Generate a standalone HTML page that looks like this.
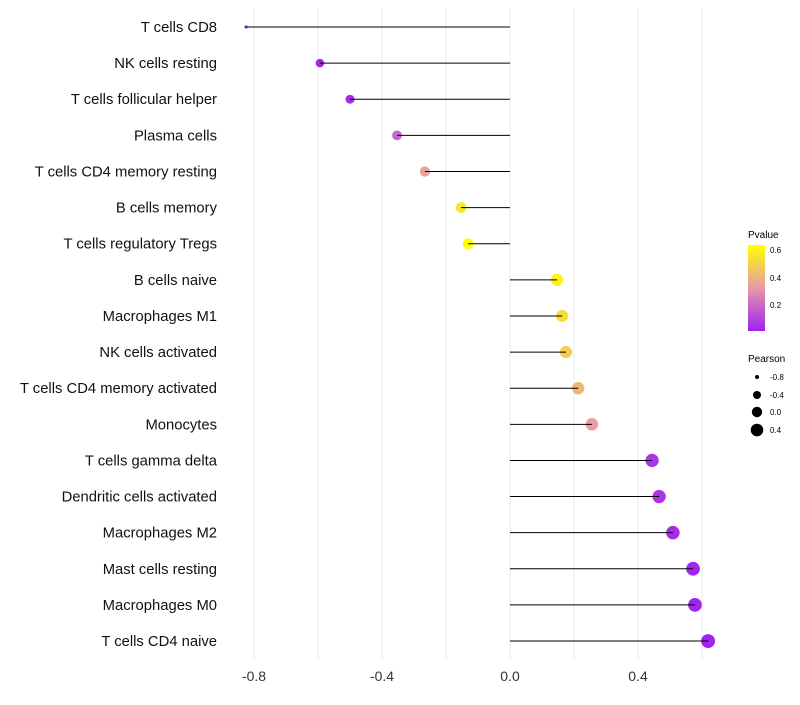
<!DOCTYPE html>
<html><head><meta charset="utf-8"><style>
body{margin:0;background:#fff;font-family:"Liberation Sans",sans-serif}
svg text{font-family:"Liberation Sans",sans-serif}
</style></head><body>
<svg id="chart" width="800" height="700" xmlns="http://www.w3.org/2000/svg">
<defs><linearGradient id="pg" x1="0" y1="1" x2="0" y2="0">
<stop offset="0" stop-color="#a020f0"/><stop offset="0.5" stop-color="#e79aa8"/><stop offset="1" stop-color="#ffff00"/></linearGradient></defs>
<g id="grid"></g>
<g id="marks"></g>
<g id="labels"></g>
<g id="xticks"></g>
<g>
<text x="748" y="238" font-size="10">Pvalue</text>
<rect x="748" y="245" width="17" height="86" fill="url(#pg)"/>
<text x="770" y="253" font-size="8">0.6</text>
<text x="770" y="281" font-size="8">0.4</text>
<text x="770" y="308" font-size="8">0.2</text>
</g>
<g>
<text x="748" y="362" font-size="10">Pearson</text>
<circle cx="757" cy="377" r="2"/><text x="770" y="380" font-size="8">-0.8</text>
<circle cx="757" cy="395" r="4"/><text x="770" y="398" font-size="8">-0.4</text>
<circle cx="757" cy="412" r="5.2"/><text x="770" y="415" font-size="8">0.0</text>
<circle cx="757" cy="430" r="6.3"/><text x="770" y="433" font-size="8">0.4</text>
</g>
</svg>
<script>
const categories=["T cells CD8","NK cells resting","T cells follicular helper","Plasma cells","T cells CD4 memory resting","B cells memory","T cells regulatory  Tregs ","B cells naive","Macrophages M1","NK cells activated","T cells CD4 memory activated","Monocytes","T cells gamma delta","Dendritic cells activated","Macrophages M2","Mast cells resting","Macrophages M0","T cells CD4 naive"];
const pearson=[-0.825,-0.594,-0.5,-0.353,-0.266,-0.153,-0.131,0.147,0.163,0.175,0.213,0.256,0.444,0.466,0.509,0.572,0.578,0.619];
const pvalue=[0.001,0.01,0.03,0.18,0.33,0.55,0.62,0.58,0.52,0.47,0.4,0.32,0.05,0.05,0.03,0.01,0.01,0.005];
const xTicks=[-0.8,-0.4,0.0,0.4];
const gridVals=[-0.8,-0.6,-0.4,-0.2,0,0.2,0.4,0.6];
const NS="http://www.w3.org/2000/svg";
const xs=v=>510+v*320;
const ys=i=>27+i*36.12;
function rs(v){let a;if(v<-0.594)a=2.5+(v+0.825)/0.231*15;else a=18+(v+0.594)*25;return Math.sqrt(Math.max(1,a));}
function lerp(a,b,t){return a.map((x,k)=>Math.round(x+(b[k]-x)*t));}
function col(p){const t=Math.min(1,Math.max(0,p/0.62));const s=[[160,32,240],[231,154,168],[255,255,0]];
 const c=t<0.5?lerp(s[0],s[1],t*2):lerp(s[1],s[2],(t-0.5)*2);return `rgb(${c})`;}
function mk(tag,attrs,parent){const e=document.createElementNS(NS,tag);for(const k in attrs)e.setAttribute(k,attrs[k]);parent.appendChild(e);return e;}
const grid=document.getElementById('grid'),marks=document.getElementById('marks'),labels=document.getElementById('labels'),xt=document.getElementById('xticks');
gridVals.forEach(v=>{const l=mk('line',{x1:xs(v),x2:xs(v),y1:8,y2:660,stroke:'#ebebeb','stroke-width':1},grid);

});
xTicks.forEach(v=>{const t=mk('text',{x:xs(v),y:681,'font-size':14,'text-anchor':'middle',fill:'#333'},xt);t.textContent=v.toFixed(1);

});
categories.forEach((c,i)=>{const y=ys(i);
 const t=mk('text',{x:217,y:y+5,'font-size':14.8,'text-anchor':'end',fill:'#111'},labels);t.textContent=c;
 
 
 const d=mk('circle',{cx:xs(pearson[i]),cy:y,r:rs(pearson[i]),fill:col(pvalue[i])},marks);
 
 
 const l=mk('line',{x1:xs(0),x2:xs(pearson[i]),y1:y,y2:y,stroke:'#000','stroke-width':1},marks);
 
 });
</script>
</body></html>
